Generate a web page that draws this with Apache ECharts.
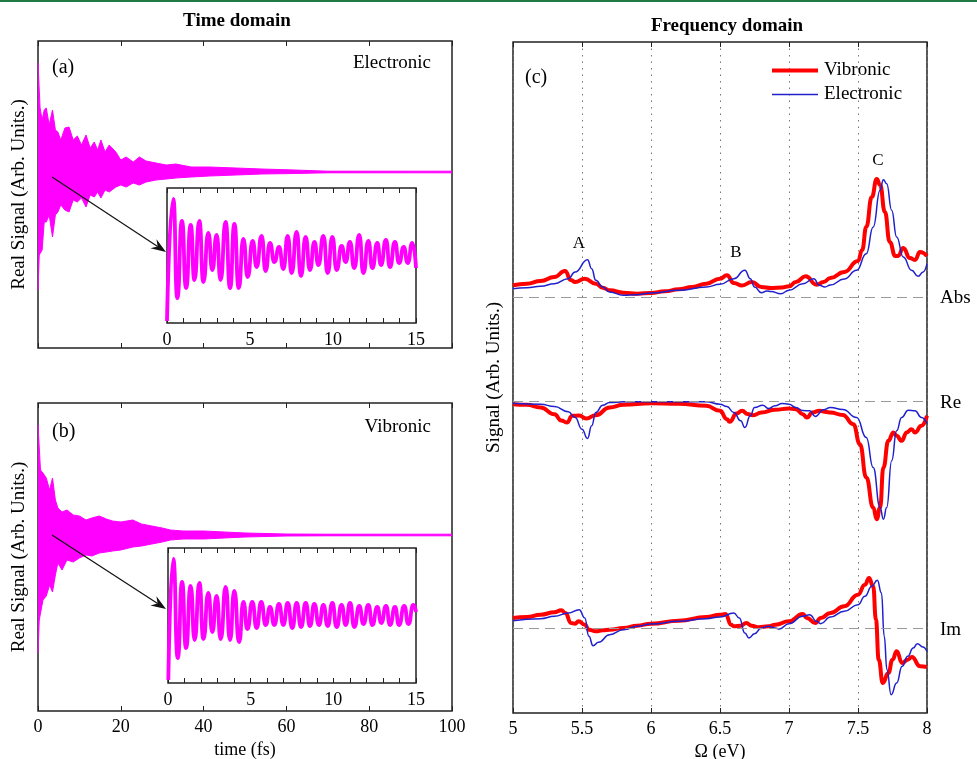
<!DOCTYPE html>
<html><head><meta charset="utf-8">
<script src="https://cdn.jsdelivr.net/npm/echarts@6/dist/echarts.min.js"></script>
<style>html,body{margin:0;padding:0;background:#fff}#c{width:977px;height:759px}</style>
</head><body><div id="c"></div>
<script>
// ---------------- Time domain: envelope of the dense oscillation (main panels) ----------------
const timeA  = [0,0.3,0.5,1.0,1.5,2.0,2.7,3.5,4.2,4.8,5.5,6.5,7.5,8.5,9.5,10.5,11.6,12.6,13.6,14.4,15.2,16.2,17.2,18.8,20,21.3,23,24.5,26.1,28.5,31,33.3,37,41.4,47.8,54,62,70,100];
const upperA = [1.09,1.09,0.64,0.52,0.62,0.64,0.47,0.62,0.42,0.40,0.32,0.44,0.45,0.32,0.36,0.27,0.37,0.24,0.30,0.22,0.32,0.20,0.27,0.20,0.12,0.15,0.10,0.15,0.11,0.09,0.07,0.08,0.05,0.05,0.04,0.03,0.02,0.008,0.008];
const lowerA = [-1.18,-0.83,-0.83,-0.78,-0.50,-0.50,-0.43,-0.65,-0.43,-0.40,-0.33,-0.38,-0.40,-0.28,-0.30,-0.26,-0.35,-0.23,-0.25,-0.20,-0.26,-0.18,-0.20,-0.15,-0.13,-0.15,-0.11,-0.13,-0.10,-0.08,-0.07,-0.06,-0.05,-0.04,-0.03,-0.02,-0.015,-0.008,-0.008];

const timeB  = [0,0.3,0.6,1.2,2.0,2.8,3.5,4.2,4.8,5.8,7.0,8.5,10,11.6,13,14.8,16.5,18,20,22.9,25,27.5,30,32,35,40,45,50,60,70,100];
const upperB = [1.10,1.08,0.65,0.62,0.57,0.45,0.57,0.35,0.27,0.23,0.25,0.20,0.19,0.15,0.17,0.19,0.16,0.14,0.13,0.15,0.11,0.09,0.07,0.05,0.04,0.04,0.03,0.02,0.01,0.008,0.008];
const lowerB = [-1.18,-0.85,-0.85,-0.65,-0.61,-0.50,-0.57,-0.40,-0.28,-0.35,-0.25,-0.27,-0.23,-0.20,-0.21,-0.18,-0.17,-0.16,-0.15,-0.12,-0.11,-0.09,-0.07,-0.05,-0.04,-0.04,-0.03,-0.02,-0.01,-0.008,-0.008];

// ---------------- Insets: first 15 fs (peaks and troughs) ----------------
const insetTA = [0,0.38,0.62,0.90,1.15,1.43,1.65,1.95,2.19,2.49,2.73,2.99,3.23,3.53,3.80,4.06,4.32,4.60,4.86,5.16,5.40,5.70,5.94,6.20,6.47,6.75,7.01,7.27,7.51,7.81,8.07,8.35,8.61,8.88,9.12,9.42,9.68,9.96,10.22,10.52,10.76,11.02,11.28,11.58,11.83,12.13,12.37,12.67,12.89,13.19,13.43,13.73,13.98,14.26,14.50,14.78,15.0];
const insetA  = [-0.66,0.56,-0.43,0.34,-0.33,0.30,-0.25,0.34,-0.27,0.22,-0.15,0.20,-0.25,0.33,-0.33,0.31,-0.33,0.16,-0.22,0.14,-0.12,0.19,-0.16,0.12,-0.07,0.08,-0.14,0.19,-0.18,0.23,-0.21,0.18,-0.15,0.13,-0.10,0.19,-0.18,0.18,-0.15,0.09,-0.07,0.13,-0.13,0.20,-0.18,0.14,-0.13,0.12,-0.10,0.15,-0.12,0.13,-0.08,0.08,-0.08,0.12,-0.13];
const insetTB = [0.02,0.32,0.59,0.85,1.09,1.37,1.61,1.90,2.14,2.44,2.68,2.94,3.19,3.49,3.75,4.01,4.30,4.56,4.80,5.10,5.36,5.64,5.91,6.17,6.43,6.71,6.98,7.24,7.52,7.78,8.05,8.33,8.59,8.85,9.13,9.40,9.66,9.94,10.20,10.50,10.75,11.01,11.27,11.57,11.82,12.12,12.36,12.66,12.90,13.19,13.43,13.73,13.97,14.29,14.54,14.84,15.0];
const insetB  = [-0.65,0.56,-0.43,0.33,-0.33,0.29,-0.25,0.32,-0.24,0.22,-0.17,0.19,-0.24,0.28,-0.25,0.24,-0.27,0.13,-0.14,0.13,-0.13,0.13,-0.10,0.08,-0.10,0.11,-0.10,0.12,-0.13,0.12,-0.12,0.12,-0.11,0.11,-0.10,0.10,-0.11,0.12,-0.12,0.10,-0.10,0.12,-0.12,0.09,-0.09,0.10,-0.10,0.08,-0.08,0.09,-0.10,0.08,-0.10,0.09,-0.09,0.10,0.03];

// ---------------- Frequency domain: [Omega (eV), signal] ----------------
const absVib = [[5.0,0.117],[5.1,0.133],[5.2,0.16],[5.3,0.20],[5.377,0.26],[5.42,0.17],[5.45,0.15],[5.52,0.183],[5.6,0.133],[5.65,0.093],[5.7,0.067],[5.8,0.043],[5.9,0.033],[6.0,0.04],[6.1,0.057],[6.2,0.077],[6.3,0.10],[6.4,0.133],[6.5,0.183],[6.55,0.217],[6.6,0.14],[6.66,0.115],[6.73,0.15],[6.8,0.10],[6.87,0.09],[6.95,0.095],[7.0,0.107],[7.05,0.15],[7.12,0.207],[7.2,0.123],[7.25,0.15],[7.3,0.19],[7.4,0.25],[7.5,0.36],[7.53,0.47],[7.56,0.70],[7.6,1.0],[7.636,1.18],[7.66,1.12],[7.695,0.85],[7.73,0.55],[7.77,0.41],[7.79,0.41],[7.828,0.49],[7.876,0.39],[7.913,0.37],[7.949,0.45],[8.0,0.41]];
const absEle = [[5.0,0.083],[5.1,0.093],[5.2,0.107],[5.3,0.133],[5.4,0.183],[5.45,0.25],[5.54,0.373],[5.57,0.283],[5.6,0.167],[5.65,0.10],[5.7,0.05],[5.8,0.017],[5.9,0.023],[6.0,0.04],[6.2,0.067],[6.4,0.10],[6.5,0.127],[6.6,0.183],[6.68,0.267],[6.72,0.183],[6.75,0.10],[6.8,0.043],[6.84,0.06],[6.87,0.055],[6.94,0.033],[7.0,0.067],[7.1,0.133],[7.18,0.183],[7.22,0.117],[7.26,0.10],[7.3,0.12],[7.4,0.18],[7.49,0.267],[7.56,0.433],[7.61,0.70],[7.66,1.067],[7.684,1.173],[7.708,1.133],[7.744,0.867],[7.78,0.60],[7.828,0.40],[7.888,0.267],[7.936,0.207],[7.972,0.25],[8.0,0.333]];
const reVib  = [[5.0,-0.027],[5.1,-0.033],[5.2,-0.06],[5.3,-0.127],[5.35,-0.19],[5.39,-0.21],[5.43,-0.143],[5.48,-0.14],[5.53,-0.17],[5.6,-0.137],[5.7,-0.06],[5.8,-0.033],[6.0,-0.017],[6.2,-0.023],[6.4,-0.043],[6.5,-0.093],[6.55,-0.177],[6.57,-0.203],[6.62,-0.12],[6.66,-0.093],[6.7,-0.125],[6.74,-0.137],[6.8,-0.11],[6.9,-0.083],[7.0,-0.07],[7.05,-0.077],[7.1,-0.127],[7.13,-0.16],[7.17,-0.11],[7.22,-0.093],[7.27,-0.105],[7.3,-0.11],[7.39,-0.135],[7.466,-0.227],[7.514,-0.427],[7.56,-0.76],[7.61,-1.06],[7.636,-1.177],[7.66,-1.06],[7.684,-0.66],[7.72,-0.393],[7.756,-0.31],[7.78,-0.343],[7.816,-0.393],[7.853,-0.31],[7.888,-0.277],[7.913,-0.31],[7.96,-0.243],[8.0,-0.143]];
const reEle  = [[5.0,-0.017],[5.2,-0.027],[5.3,-0.05],[5.4,-0.103],[5.45,-0.16],[5.5,-0.277],[5.54,-0.37],[5.57,-0.243],[5.6,-0.11],[5.65,-0.037],[5.7,-0.01],[5.8,-0.003],[6.0,-0.003],[6.4,-0.003],[6.5,-0.027],[6.55,-0.05],[6.6,-0.11],[6.65,-0.193],[6.68,-0.26],[6.72,-0.143],[6.75,-0.06],[6.81,-0.037],[6.85,-0.07],[6.9,-0.043],[6.95,-0.02],[7.0,-0.027],[7.05,-0.06],[7.1,-0.09],[7.15,-0.093],[7.19,-0.15],[7.25,-0.083],[7.3,-0.06],[7.39,-0.08],[7.49,-0.16],[7.56,-0.36],[7.61,-0.66],[7.66,-1.06],[7.684,-1.177],[7.708,-1.06],[7.744,-0.593],[7.78,-0.293],[7.816,-0.16],[7.864,-0.087],[7.913,-0.093],[7.96,-0.16],[8.0,-0.22]];
const imVib  = [[5.0,0.10],[5.1,0.11],[5.2,0.133],[5.3,0.157],[5.35,0.177],[5.38,0.15],[5.42,0.05],[5.45,0.043],[5.475,0.067],[5.52,0.033],[5.55,-0.017],[5.6,-0.033],[5.65,-0.023],[5.7,-0.017],[5.8,0.0],[5.9,0.023],[6.0,0.043],[6.2,0.073],[6.4,0.11],[6.5,0.133],[6.54,0.14],[6.58,0.033],[6.6,0.017],[6.65,0.023],[6.69,0.05],[6.73,0.023],[6.78,0.007],[6.85,0.017],[6.9,0.033],[7.0,0.067],[7.1,0.14],[7.13,0.10],[7.19,0.05],[7.23,0.10],[7.3,0.15],[7.4,0.217],[7.5,0.333],[7.55,0.433],[7.58,0.50],[7.61,0.417],[7.63,0.083],[7.65,-0.317],[7.68,-0.55],[7.72,-0.45],[7.75,-0.317],[7.78,-0.233],[7.82,-0.35],[7.86,-0.317],[7.89,-0.29],[7.95,-0.383],[8.0,-0.39]];
const imEle  = [[5.0,0.073],[5.2,0.093],[5.3,0.117],[5.4,0.15],[5.48,0.183],[5.52,0.10],[5.55,-0.083],[5.58,-0.177],[5.62,-0.143],[5.7,-0.067],[5.8,-0.017],[5.9,0.017],[6.0,0.04],[6.2,0.067],[6.4,0.093],[6.5,0.11],[6.6,0.15],[6.64,0.10],[6.68,-0.05],[6.71,-0.10],[6.75,-0.057],[6.8,0.0],[6.85,0.017],[6.9,0.0],[6.93,-0.01],[7.0,0.043],[7.1,0.117],[7.15,0.133],[7.2,0.067],[7.23,0.043],[7.3,0.11],[7.4,0.167],[7.5,0.233],[7.55,0.317],[7.6,0.417],[7.64,0.477],[7.67,0.35],[7.69,-0.083],[7.71,-0.417],[7.74,-0.667],[7.78,-0.55],[7.82,-0.383],[7.86,-0.283],[7.9,-0.20],[7.93,-0.157],[7.97,-0.19],[8.0,-0.233]];

// vertical offsets of the three stacked spectra (Abs, Re, Im)
const offsets = {abs: 4.16, re: 3.115, im: 0.85};

// ---------------- rendering ----------------
const FONT = "'Liberation Serif','Times New Roman',serif";
const MAG = '#ff00ff', RED = '#ff0000', BLUE = '#2020cc', INK = '#222';
const zip = (xs, ys) => xs.map((x, i) => [x, ys[i]]);
const shift = (arr, o) => arr.map(p => [p[0], p[1] + o]);

function xAx(grid, min, max, interval, top, labels, extra) {
  return Object.assign({
    type: 'value', gridIndex: grid, min, max, interval,
    position: top ? 'top' : 'bottom',
    axisLine: {show: false, onZero: false},
    axisTick: {show: true, inside: true, length: 5, lineStyle: {color: INK, width: 1}},
    axisLabel: {show: !!labels, color: '#000', fontFamily: FONT, fontSize: 18, margin: 7},
    splitLine: {show: false}
  }, extra || {});
}
function yAx(grid, min, max, extra) {
  return Object.assign({
    type: 'value', gridIndex: grid, min, max,
    axisLine: {show: false, onZero: false}, axisTick: {show: false}, axisLabel: {show: false}, splitLine: {show: false}
  }, extra || {});
}
const yName = (name, gap) => ({name, nameLocation: 'middle', nameGap: gap, nameRotate: 90,
  nameTextStyle: {color: '#000', fontFamily: FONT, fontSize: 19}});

const insetFmt = v => (v % 5 === 0 ? String(v) : '');
const gridStyle = {show: true, borderColor: INK, borderWidth: 1.5, backgroundColor: 'transparent',
  containLabel: false, outerBoundsMode: 'none'};

function band(x, y, up, base) {
  const s = {type: 'line', xAxisIndex: x, yAxisIndex: y, data: up, symbol: 'none', silent: true,
    lineStyle: {color: MAG, width: 1}, areaStyle: {color: MAG, opacity: 1}, z: 2, animation: false};
  if (base) s.markLine = {silent: true, symbol: ['none', 'none'], label: {show: false},
    lineStyle: {color: MAG, type: 'solid', width: 1.5}, data: [{yAxis: 0}], animation: false};
  return s;
}
function inset(x, y, data) {
  return {type: 'line', xAxisIndex: x, yAxisIndex: y, data, symbol: 'none', smooth: 0.6, smoothMonotone: 'x',
    lineStyle: {color: MAG, width: 3.8}, z: 3, animation: false, silent: true};
}
const dashLine = o => ({silent: true, symbol: ['none', 'none'], label: {show: false},
  lineStyle: {color: '#999', type: [10, 6], width: 1}, data: [{yAxis: o}], animation: false});
function spec(name, data, off, color, width, z, withBase) {
  const s = {type: 'line', name, xAxisIndex: 8, yAxisIndex: 4, data: shift(data, off), symbol: 'none',
    smooth: 0.5, smoothMonotone: 'x', lineStyle: {color, width}, itemStyle: {color}, z, animation: false};
  if (withBase) s.markLine = dashLine(off);
  return s;
}

function arrow(x1, y1, x2, y2) {
  const dx = x2 - x1, dy = y2 - y1, L = Math.hypot(dx, dy), ux = dx / L, uy = dy / L, px = -uy, py = ux;
  const hl = 15, hw = 5.5, inner = 10;
  const bx = x2 - ux * hl, by = y2 - uy * hl;
  return [
    {type: 'line', shape: {x1, y1, x2: x2 - ux * inner, y2: y2 - uy * inner}, style: {stroke: '#111', lineWidth: 1.2}, z: 50},
    {type: 'polygon', shape: {points: [[x2, y2], [bx + px * hw, by + py * hw], [x2 - ux * inner, y2 - uy * inner], [bx - px * hw, by - py * hw]]},
      style: {fill: '#111'}, z: 50}
  ];
}
function txt(text, x, y, size, align, bold) {
  return {type: 'text', x, y, z: 60, style: {text, fill: '#000', font: (bold ? 'bold ' : '') + size + 'px ' + FONT,
    textAlign: align || 'left', textVerticalAlign: 'middle'}};
}

const option = {
  backgroundColor: '#fff',
  animation: false,
  grid: [
    Object.assign({left: 38, top: 41, width: 414, height: 307}, gridStyle),
    Object.assign({left: 38, top: 403, width: 414, height: 308}, gridStyle),
    Object.assign({left: 167, top: 188, width: 249, height: 135}, gridStyle, {backgroundColor: '#fff'}),
    Object.assign({left: 168, top: 548, width: 248, height: 135}, gridStyle, {backgroundColor: '#fff'}),
    Object.assign({left: 513, top: 42, width: 414, height: 671}, gridStyle)
  ],
  xAxis: [
    xAx(0, 0, 100, 20, false, false),
    xAx(0, 0, 100, 20, true, false),
    xAx(1, 0, 100, 20, false, true, {name: 'time (fs)', nameLocation: 'middle', nameGap: 30,
      nameTextStyle: {color: '#000', fontFamily: FONT, fontSize: 18}}),
    xAx(1, 0, 100, 20, true, false),
    xAx(2, 0, 15, 1, false, true, {axisLabel: {show: true, formatter: insetFmt, color: '#000', fontFamily: FONT, fontSize: 18, margin: 8}}),
    xAx(2, 0, 15, 1, true, false),
    xAx(3, 0, 15, 1, false, true, {axisLabel: {show: true, formatter: insetFmt, color: '#000', fontFamily: FONT, fontSize: 18, margin: 8}}),
    xAx(3, 0, 15, 1, true, false),
    xAx(4, 5, 8, 0.5, false, true, {name: 'Ω (eV)', nameLocation: 'middle', nameGap: 30,
      nameTextStyle: {color: '#000', fontFamily: FONT, fontSize: 18},
      splitLine: {show: true, lineStyle: {color: '#777', type: [1.5, 5], width: 1}}}),
    xAx(4, 5, 8, 0.5, true, false)
  ],
  yAxis: [
    yAx(0, -1.76, 1.31, yName('Real Signal (Arb. Units.)', 9)),
    yAx(1, -1.76, 1.32, yName('Real Signal (Arb. Units.)', 9)),
    yAx(2, -0.68, 0.67),
    yAx(3, -0.68, 0.67),
    yAx(4, 0, 6.71, yName('Signal (Arb. Units.)', 9))
  ],
  legend: [
    {data: ['Vibronic'], left: 767, top: 56, icon: 'rect', itemWidth: 46, itemHeight: 4, itemGap: 0,
      selectedMode: false, textStyle: {color: '#000', fontFamily: FONT, fontSize: 19, padding: [0, 0, 0, 1]}},
    {data: ['Electronic'], left: 767, top: 80, icon: 'rect', itemWidth: 46, itemHeight: 1.5, itemGap: 0,
      selectedMode: false, textStyle: {color: '#000', fontFamily: FONT, fontSize: 19, padding: [0, 0, 0, 1]}}
  ],
  series: [
    band(0, 0, zip(timeA, upperA), true), band(0, 0, zip(timeA, lowerA), false),
    band(2, 1, zip(timeB, upperB), true), band(2, 1, zip(timeB, lowerB), false),
    inset(4, 2, zip(insetTA, insetA)),
    inset(6, 3, zip(insetTB, insetB)),
    spec('Vibronic', absVib, offsets.abs, RED, 4, 3, true),
    spec('Vibronic', reVib, offsets.re, RED, 4, 3, true),
    spec('Vibronic', imVib, offsets.im, RED, 4, 3, true),
    spec('Electronic', absEle, offsets.abs, BLUE, 1.5, 4, false),
    spec('Electronic', reEle, offsets.re, BLUE, 1.5, 4, false),
    spec('Electronic', imEle, offsets.im, BLUE, 1.5, 4, false)
  ],
  graphic: [
    {type: 'rect', shape: {x: 0, y: 0, width: 977, height: 2}, style: {fill: '#1f7a45'}, z: 60},
    txt('Time domain', 237, 21, 19, 'center', true),
    txt('Frequency domain', 727, 26, 19, 'center', true),
    txt('(a)', 52, 68, 20, 'left'),
    txt('Electronic', 431, 63, 19, 'right'),
    txt('(b)', 52, 432, 20, 'left'),
    txt('Vibronic', 431, 427, 19, 'right'),
    txt('(c)', 525, 78, 20, 'left'),
    txt('A', 579, 244, 17, 'center'),
    txt('B', 736, 253, 17, 'center'),
    txt('C', 878, 161, 17, 'center'),
    txt('Abs', 940, 298, 19, 'left'),
    txt('Re', 940, 403, 19, 'left'),
    txt('Im', 940, 630, 19, 'left')
  ].concat(arrow(52, 177, 166, 252), arrow(52, 535, 166, 609))
};

const chart = echarts.init(document.getElementById('c'), null, {renderer: 'canvas'});
chart.setOption(option);
</script></body></html>
